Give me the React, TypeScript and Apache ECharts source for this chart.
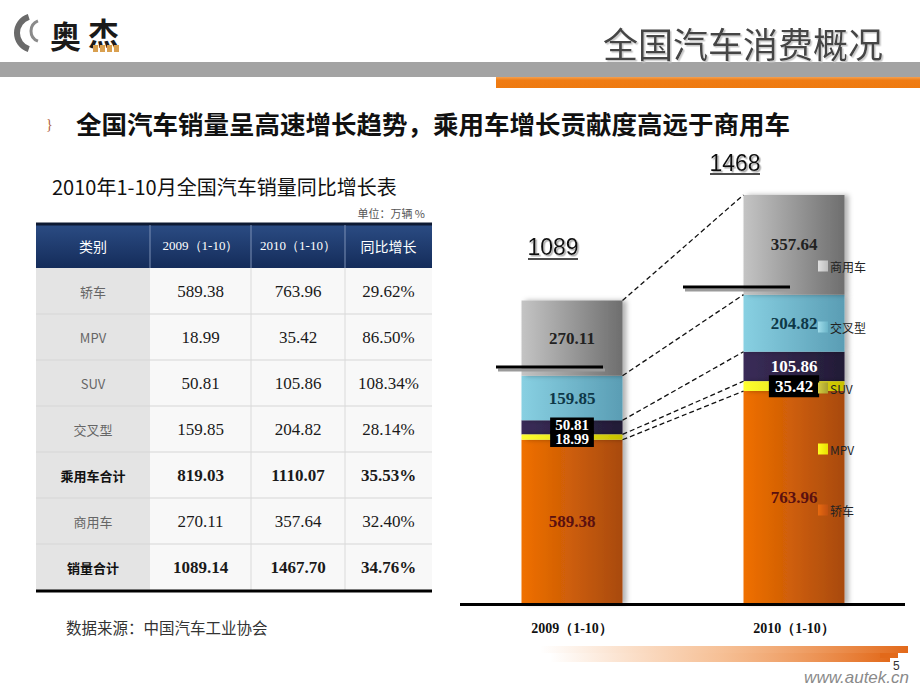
import React, { useEffect, useRef } from 'react';
import * as echarts from 'echarts';

// ---------- data ----------
const categories = ['2009（1-10）', '2010（1-10）'];
const sedan = [589.38, 763.96];
const mpv = [18.99, 35.42];
const suv = [50.81, 105.86];
const crossover = [159.85, 204.82];
const commercial = [270.11, 357.64];
const totalLabels = ['1089', '1468'];
const legendOrder = ['商用车', '交叉型', 'SUV', 'MPV', '轿车'];

const tableHeader = ['类别', '2009（1-10）', '2010（1-10）', '同比增长'];
const tableLabels = ['轿车', 'MPV', 'SUV', '交叉型', '乘用车合计', '商用车', '销量合计'];
const table2009 = ['589.38', '18.99', '50.81', '159.85', '819.03', '270.11', '1089.14'];
const table2010 = ['763.96', '35.42', '105.86', '204.82', '1110.07', '357.64', '1467.70'];
const tableGrowth = ['29.62%', '86.50%', '108.34%', '28.14%', '35.53%', '32.40%', '34.76%'];
const boldRows = [4, 6];

// ---------- styling constants ----------
const BAR_W = 101;
const SERIF = '"Liberation Serif", "Times New Roman", serif';
const CJK = '"Noto Sans CJK SC", "Noto Sans", sans-serif';
const SANS = '"Liberation Sans", Arial, sans-serif';

const lg = (a: string, b: string) =>
  new echarts.graphic.LinearGradient(0, 0, 1, 0, [
    { offset: 0, color: a },
    { offset: 1, color: b },
  ]);

function txt(text: string, x: number, y: number, st: any = {}) {
  return {
    type: 'text',
    z: 10,
    style: {
      text,
      x,
      y,
      fill: st.fill || '#222',
      fontSize: st.fontSize || 14,
      fontFamily: st.fontFamily || CJK,
      fontWeight: st.fontWeight || 'normal',
      fontStyle: st.fontStyle || 'normal',
      align: st.align || 'left',
      textAlign: st.align || 'left',
      verticalAlign: 'middle',
      textVerticalAlign: 'middle',
      textShadowColor: st.shadow || 'transparent',
      textShadowOffsetX: st.shadow ? 1.5 : 0,
      textShadowOffsetY: st.shadow ? 1.5 : 0,
      textShadowBlur: st.shadow ? 1 : 0,
    },
  };
}

function rect(x: number, y: number, w: number, h: number, fill: any, z = 1) {
  return { type: 'rect', z, shape: { x, y, width: w, height: h }, style: { fill } };
}

function line(x1: number, y1: number, x2: number, y2: number, stroke: string, lw: number, z = 5) {
  return { type: 'line', z, shape: { x1, y1, x2, y2 }, style: { stroke, lineWidth: lw } };
}

function buildGraphics() {
  const g: any[] = [];
  // header bands
  g.push(rect(0, 62, 920, 15, '#a3a3a3'));
  g.push(rect(496, 77, 424, 11, new echarts.graphic.LinearGradient(0, 0, 0, 1, [
    { offset: 0, color: '#f5a050' }, { offset: 0.3, color: '#f07c14' }, { offset: 1, color: '#ee7a10' },
  ])));
  // logo
  g.push({ type: 'arc', z: 5, shape: { cx: 34, cy: 33, r: 17, startAngle: Math.PI * 0.6, endAngle: Math.PI * 1.4 }, style: { stroke: '#6a6a6a', lineWidth: 6, fill: 'none' } });
  g.push({ type: 'arc', z: 5, shape: { cx: 42, cy: 31, r: 11, startAngle: Math.PI * 0.62, endAngle: Math.PI * 1.38 }, style: { stroke: '#8a8a8a', lineWidth: 3, fill: 'none' } });
  g.push(txt('奥', 50, 34, { fontSize: 31, fontWeight: 'bold', fill: '#1a1a1a' }));
  g.push(txt('杰', 88, 31, { fontSize: 31, fontWeight: 'bold', fill: '#1a1a1a' }));
  for (let i = 0; i < 4; i++) g.push(rect(93 + i * 7, 45, 5, 7, '#d9a050', 11));
  // title
  g.push(txt('全国汽车消费概况', 883, 42, { fontSize: 35, fill: '#444', align: 'right', shadow: '#c8c8c8' }));
  // subtitle
  g.push(txt('}', 46, 124, { fontSize: 14, fill: '#b0603a', fontFamily: SERIF }));
  g.push(txt('全国汽车销量呈高速增长趋势，乘用车增长贡献度高远于商用车', 76, 122, { fontSize: 25.5, fontWeight: 'bold', fill: '#111' }));
  // table title
  g.push(txt('2010年1-10月全国汽车销量同比增长表', 52, 186, { fontSize: 20, fill: '#111' }));
  g.push(txt('单位：万辆 %', 425, 213, { fontSize: 11, fill: '#555', align: 'right' }));

  // table
  const cols = [36, 150, 251, 345, 432];
  const hTop = 223, hBot = 268, rowH = 46;
  g.push(rect(cols[0], hTop, cols[4] - cols[0], hBot - hTop, new echarts.graphic.LinearGradient(0, 0, 0, 1, [
    { offset: 0, color: '#2c4d85' }, { offset: 1, color: '#142c5a' },
  ])));
  g.push(line(cols[0], hTop + 1, cols[4], hTop + 1, '#0e1a33', 3));
  for (let c = 1; c < 4; c++) g.push(line(cols[c], hTop + 2, cols[c], hBot, '#7d90b5', 1));
  tableHeader.forEach((h, c) => {
    const cx = (cols[c] + cols[c + 1]) / 2;
    const isNum = c === 1 || c === 2;
    g.push(txt(h, cx, (hTop + hBot) / 2, { fontSize: isNum ? 13 : 14, fill: '#fff', align: 'center', fontFamily: isNum ? SERIF : CJK }));
  });
  const nRows = tableLabels.length;
  g.push(rect(cols[0], hBot, cols[1] - cols[0], rowH * nRows, '#e4e4e4'));
  g.push(rect(cols[1], hBot, cols[4] - cols[1], rowH * nRows, '#f8f8f8'));
  for (let r = 1; r < nRows; r++) g.push(line(cols[0], hBot + r * rowH, cols[4], hBot + r * rowH, '#d6d6d6', 1, 3));
  for (let c = 2; c < 4; c++) g.push(line(cols[c], hBot, cols[c], hBot + rowH * nRows, '#dadada', 1, 3));
  g.push(line(cols[0], hBot + rowH * nRows + 1, cols[4], hBot + rowH * nRows + 1, '#000', 3));
  tableLabels.forEach((lab, r) => {
    const cy = hBot + r * rowH + rowH / 2;
    const bold = boldRows.indexOf(r) >= 0;
    const vals = [table2009[r], table2010[r], tableGrowth[r]];
    g.push(txt(lab, (cols[0] + cols[1]) / 2, cy, { fontSize: 13, fill: bold ? '#111' : '#666', fontWeight: bold ? 'bold' : 'normal', align: 'center' }));
    vals.forEach((v, i) => {
      g.push(txt(v, (cols[i + 1] + cols[i + 2]) / 2, cy, { fontSize: 17, fill: '#1a1a1a', fontWeight: bold ? 'bold' : 'normal', align: 'center', fontFamily: SERIF }));
    });
  });
  g.push(txt('数据来源：中国汽车工业协会', 66, 627, { fontSize: 15.5, fill: '#333' }));

  // chart annotations: baseline, totals and separators
  g.push(line(460, 604.5, 905, 604.5, '#000', 3, 8));
  g.push(txt(totalLabels[0], 553, 247, { fontSize: 23, fill: '#111', align: 'center', fontFamily: SANS, shadow: '#aaa' }));
  g.push(line(528, 259, 578, 259, '#111', 1.5));
  g.push(txt(totalLabels[1], 735, 163, { fontSize: 23, fill: '#111', align: 'center', fontFamily: SANS, shadow: '#aaa' }));
  g.push(line(710, 174, 760, 174, '#111', 1.5));
  g.push(line(498, 370, 605, 370, '#9a9a9a', 3, 4));
  g.push(line(496, 367, 603, 367, '#000', 3, 6));
  g.push(line(685, 290, 792, 290, '#9a9a9a', 3, 4));
  g.push(line(683, 287, 790, 287, '#000', 3, 6));

  // footer
  const fade = () => new echarts.graphic.LinearGradient(0, 0, 1, 0, [
    { offset: 0, color: 'rgba(240,140,60,0)' }, { offset: 0.5, color: 'rgba(240,150,80,0.6)' }, { offset: 1, color: '#e2691a' },
  ]);
  g.push(rect(540, 646, 368, 7, fade()));
  g.push(rect(550, 653, 340, 9, fade()));
  g.push(rect(880, 653, 18, 5, '#e2691a'));
  g.push(txt('5', 893, 666, { fontSize: 12, fill: '#333', fontFamily: SANS }));
  g.push(txt('www.autek.cn', 909, 677, { fontSize: 17, fill: '#8a8a8a', align: 'right', fontStyle: 'italic', fontFamily: SANS }));
  return g;
}

export default function App() {
  const ref = useRef<HTMLDivElement>(null);
  useEffect(() => {
    if (!ref.current) return;
    const chart = echarts.init(ref.current, null, { renderer: 'svg' });

    const arrays = [sedan, mpv, suv, crossover, commercial];
    const names = ['轿车', 'MPV', 'SUV', '交叉型', '商用车'];
    const colors = [
      lg('#f07000', '#a84a10'),
      lg('#ffff30', '#c8c000'),
      lg('#3a2c58', '#221c36'),
      lg('#88d0e2', '#5a9db4'),
      lg('#c4c4c4', '#6e6e6e'),
    ];
    const legendColors: Record<string, any> = {
      '商用车': lg('#e0e0e0', '#bdbdbd'),
      '交叉型': lg('#a0dcea', '#6ab4c8'),
      'SUV': lg('#d4cc40', '#a8a030'),
      'MPV': lg('#ffff20', '#e8e000'),
      '轿车': lg('#e86a10', '#c05010'),
    };
    const baseLabel = { show: true, position: 'inside', fontFamily: SERIF, fontWeight: 'bold', fontSize: 17 };
    const labelFor = (si: number, j: number): any => {
      if (si === 0) return { color: '#5a1010' };
      if (si === 1) return j === 0
        ? { color: '#fff', backgroundColor: '#000', fontSize: 15, lineHeight: 13, padding: [1, 5, 2, 5], offset: [0, 2] }
        : { color: '#fff', backgroundColor: '#000', fontSize: 17, padding: [3, 6, 2, 6] };
      if (si === 2) return j === 0
        ? { color: '#fff', backgroundColor: '#000', fontSize: 15, lineHeight: 13, padding: [2, 5, 1, 5], offset: [0, -2] }
        : { color: '#fff' };
      if (si === 3) return { color: '#0e3848' };
      return { color: '#222' };
    };

    const barSeries = arrays.map((arr, si) => ({
      name: names[si],
      type: 'bar',
      stack: 'total',
      barWidth: BAR_W,
      z: si === 1 ? 4 : 2,
      itemStyle: { color: colors[si], shadowColor: 'rgba(0,0,0,0.3)', shadowBlur: 5, shadowOffsetX: 4 },
      label: baseLabel,
      data: arr.map((v, j) => ({ value: v, label: labelFor(si, j) })),
    }));

    const linkData = arrays.map((_, k) => {
      let c9 = 0, c10 = 0;
      for (let i = 0; i <= k; i++) { c9 += arrays[i][0]; c10 += arrays[i][1]; }
      return [0, c9, c10];
    });

    chart.setOption({
      animation: false,
      backgroundColor: '#fff',
      grid: { left: 461, width: 444, top: 186, bottom: 86 },
      xAxis: {
        type: 'category',
        data: categories,
        axisLine: { show: false },
        axisTick: { show: false },
        axisLabel: { color: '#111', fontFamily: SERIF, fontWeight: 'bold', fontSize: 14, margin: 17 },
      },
      yAxis: { type: 'value', min: 0, max: 1500, show: false, splitLine: { show: false } },
      legend: {
        data: legendOrder.map((n) => ({ name: n, itemStyle: { color: legendColors[n] } })),
        orient: 'vertical',
        left: 813,
        top: 255,
        z: 20,
        zlevel: 0,
        itemWidth: 10,
        itemHeight: 11,
        itemGap: 49,
        icon: 'rect',
        selectedMode: false,
        textStyle: { fontSize: 12, color: '#222', fontFamily: CJK, padding: [0, 0, 0, -3] },
      },
      series: [
        ...barSeries,
        {
          type: 'custom',
          name: 'links',
          silent: true,
          z: 5,
          data: linkData,
          renderItem: (params: any, api: any) => {
            const p1 = api.coord([0, api.value(1)]);
            const p2 = api.coord([1, api.value(2)]);
            return {
              type: 'line',
              shape: { x1: p1[0] + BAR_W / 2, y1: p1[1], x2: p2[0] - BAR_W / 2, y2: p2[1] },
              style: { stroke: '#111', lineWidth: 1.3, lineDash: [5, 3], fill: null },
            };
          },
        },
      ],
      graphic: { elements: buildGraphics() },
    });
    return () => chart.dispose();
  }, []);
  return <div ref={ref} style={{ position: 'fixed', left: 0, top: 0, width: 920, height: 690 }} />;
}
